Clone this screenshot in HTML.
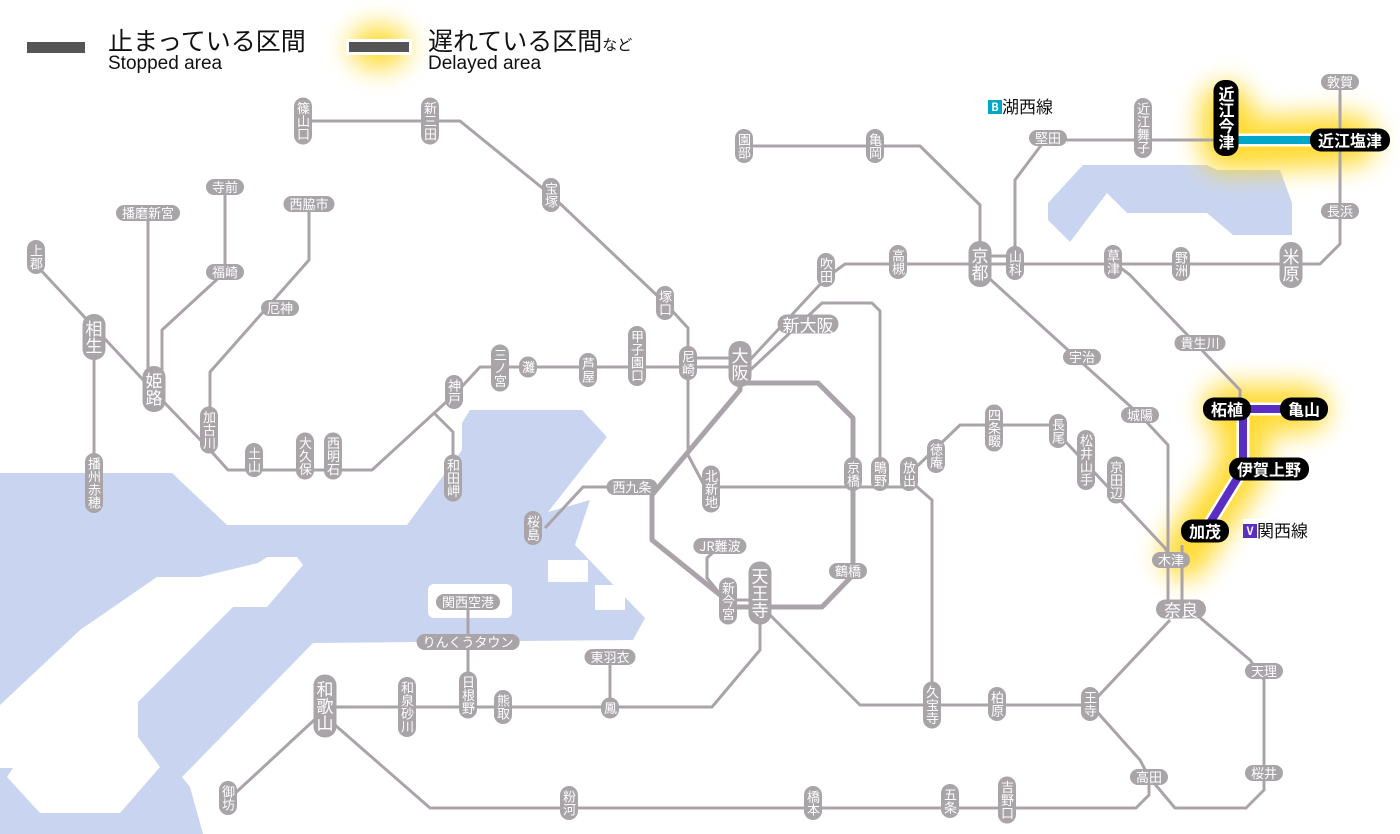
<!DOCTYPE html>
<html><head><meta charset="utf-8">
<style>
html,body{margin:0;padding:0;background:#fff;}
body{width:1400px;height:834px;position:relative;overflow:hidden;font-family:"Liberation Sans","Noto Sans CJK JP",sans-serif;}
svg{position:absolute;left:0;top:0;}
.s{position:absolute;transform:translate(-50%,-50%);background:#a8a4a8;color:#fff;border-radius:9px;font-size:13px;line-height:14px;white-space:nowrap;font-family:"Noto Sans CJK JP",sans-serif;}
.v{writing-mode:vertical-rl;padding:4px 2px;}
.h{padding:1px 6px;}
.b{font-size:17px;line-height:19px;border-radius:11px;}
.v.b{padding:6px 2px;}
.k{background:#000;font-size:16px;line-height:19px;border-radius:11px;font-weight:bold;}
.h.k{padding:2px 8px;}
.v.k{padding:6px 3px;}
.t{position:absolute;white-space:nowrap;color:#111;}
</style></head><body>
<svg width="1400" height="834" viewBox="0 0 1400 834">
<defs>
<filter id="bl" x="-50%" y="-50%" width="200%" height="200%"><feGaussianBlur stdDeviation="13"/></filter>
</defs>
<g fill="#c9d5f0">
<polygon points="0,473 172,473 227,525 407,525 462,450 462,423 470,410 582,410 607,437 548,512 590,500 575,545 645,618 633,640 313,643 182,777 190,787 203,834 0,834"/>
<polygon points="1083,165 1207,165 1217,170 1280,170 1292,203 1292,235 1233,235 1207,213 1127,213 1107,193 1070,242 1048,220 1048,203"/>
</g>
<g fill="#fff">
<polygon points="0,705 80,630 157,577 200,577 258,563 267,557 297,557 303,565 267,607 233,607 138,702 138,737 160,767 120,813 40,813 7,777 13,768 0,768"/>
<rect x="548" y="560" width="40" height="22"/>
<rect x="595" y="585" width="30" height="25"/>
<rect x="428" y="584" width="84" height="34" rx="6"/>
</g>
<g filter="url(#bl)" stroke="#ffd200" fill="none" stroke-linecap="round" stroke-linejoin="round" opacity="0.8">
<polyline points="1226,110 1226,145 1350,140" stroke-width="52"/>
<polyline points="1227,409 1304,409" stroke-width="48"/>
<polyline points="1243,409 1243,469 1200,531 1185,555" stroke-width="48"/>
<ellipse cx="379" cy="47" rx="30" ry="22" fill="#ffd200" stroke="none"/>
</g>
<g stroke="#aaa4aa" stroke-width="3" fill="none" stroke-linejoin="round">
<polyline points="303,121 460,121 551,195 665,303 688,328 688,455 705,487 915,487"/>
<polyline points="160,398 210,450 228,470 372,470 455,394 480,367 740,367"/>
<polyline points="688,358 740,358"/>
<polyline points="36,265 160,398"/>
<polyline points="94,337 94,483"/>
<polyline points="148,213 148,389"/>
<polyline points="225,187 225,272 162,330 162,389"/>
<polyline points="309,204 309,260 210,372 210,430"/>
<polyline points="433,412 453,432 453,478"/>
<polyline points="748,362 826,278 845,264 1320,264 1340,244 1340,82"/>
<polyline points="980,256 1015,256"/>
<polyline points="746,374 822,303 872,303 880,311 880,474"/>
<polyline points="632,487 583,487 545,528"/>
<polyline points="720,546 707,558 707,578 725,600"/>
<polyline points="728,600 760,600"/>
<polyline points="760,593 760,650 712,707 325,707"/>
<polyline points="770,615 860,705 1090,705 1170,620"/>
<polyline points="1185,605 1250,660 1264,680 1264,790 1246,808 1175,808 1149,777"/>
<polyline points="1090,704 1140,760 1149,777 1149,795 1136,808 430,808 335,725"/>
<polyline points="325,710 230,798"/>
<polyline points="468,602 468,707"/>
<polyline points="610,657 610,708"/>
<polyline points="909,480 932,500 932,700"/>
<polyline points="909,474 960,425 1050,425 1165,548 1171,560"/>
<polyline points="980,270 1090,370 1140,415 1168,445 1168,610"/>
<polyline points="1182,545 1182,609"/>
<polyline points="1113,262 1130,275 1240,390 1240,400"/>
<polyline points="1015,263 1015,180 1045,140 1215,140"/>
<polyline points="744,146 920,146 980,205 980,264"/>
<polygon points="740,383 818,383 853,418 853,575 822,607 735,607 652,540 652,495 740,390" stroke-width="5"/>
</g>
<g fill="none" stroke-linejoin="round">
<polyline points="1226,140 1350,140" stroke="#fff" stroke-width="13"/>
<polyline points="1226,140 1350,140" stroke="#00a7c9" stroke-width="8"/>
<polyline points="1227,409 1304,409" stroke="#fff" stroke-width="13"/>
<polyline points="1243,409 1243,469 1205,531" stroke="#fff" stroke-width="13"/>
<polyline points="1227,409 1304,409" stroke="#5a2ec2" stroke-width="8"/>
<polyline points="1243,409 1243,469 1205,531" stroke="#5a2ec2" stroke-width="8"/>
</g>
<rect x="27" y="42" width="58" height="11" fill="#555"/>
<rect x="346" y="39" width="66" height="16" fill="#fff"/>
<rect x="349" y="42" width="60" height="10" fill="#555"/>
</svg>

<div class="t" style="left:108px;top:24px;font-size:25px;font-family:'Noto Sans CJK JP',sans-serif;line-height:32px;">止まっている区間</div>
<div class="t" style="left:108px;top:53px;font-size:19px;line-height:22px;">Stopped area</div>
<div class="t" style="left:428px;top:24px;font-size:25px;font-family:'Noto Sans CJK JP',sans-serif;line-height:32px;">遅れている区間<span style="font-size:15px">など</span></div>
<div class="t" style="left:428px;top:53px;font-size:19px;line-height:22px;">Delayed area</div>

<div class="t" style="left:988px;top:95px;font-size:17px;line-height:22px;font-family:'Noto Sans CJK JP',sans-serif;background:#fff;"><span style="display:inline-block;background:#00a7c9;color:#fff;font-size:11px;line-height:14px;width:14px;text-align:center;vertical-align:2px;font-weight:bold">B</span>湖西線</div>
<div class="t" style="left:1243px;top:519px;font-size:17px;line-height:22px;font-family:'Noto Sans CJK JP',sans-serif;background:#fff;"><span style="display:inline-block;background:#5a2ec2;color:#fff;font-size:11px;line-height:14px;width:14px;text-align:center;vertical-align:2px;font-weight:bold">V</span>関西線</div>

<div class="s v" style="left:303px;top:121px">篠山口</div>
<div class="s v" style="left:430px;top:121px">新三田</div>
<div class="s v" style="left:551px;top:195px">宝塚</div>
<div class="s v" style="left:665px;top:303px">塚口</div>
<div class="s v" style="left:688px;top:363px">尼崎</div>
<div class="s v" style="left:637px;top:356px">甲子園口</div>
<div class="s v" style="left:588px;top:370px">芦屋</div>
<div class="s v" style="left:528px;top:367px">灘</div>
<div class="s v" style="left:500px;top:368px">三ノ宮</div>
<div class="s v" style="left:454px;top:392px">神戸</div>
<div class="s v" style="left:453px;top:478px">和田岬</div>
<div class="s v" style="left:333px;top:456px">西明石</div>
<div class="s v" style="left:305px;top:456px">大久保</div>
<div class="s v" style="left:254px;top:460px">土山</div>
<div class="s v" style="left:209px;top:430px">加古川</div>
<div class="s v b" style="left:154px;top:389px">姫路</div>
<div class="s v b" style="left:94px;top:337px">相生</div>
<div class="s v" style="left:36px;top:257px">上郡</div>
<div class="s v" style="left:94px;top:483px">播州赤穂</div>
<div class="s h" style="left:148px;top:213px">播磨新宮</div>
<div class="s h" style="left:225px;top:187px">寺前</div>
<div class="s h" style="left:225px;top:272px">福崎</div>
<div class="s h" style="left:309px;top:204px">西脇市</div>
<div class="s h" style="left:280px;top:308px">厄神</div>
<div class="s v" style="left:744px;top:146px">園部</div>
<div class="s v" style="left:875px;top:146px">亀岡</div>
<div class="s v" style="left:826px;top:270px">吹田</div>
<div class="s v" style="left:898px;top:262px">高槻</div>
<div class="s v b" style="left:980px;top:264px">京都</div>
<div class="s v" style="left:1015px;top:263px">山科</div>
<div class="s h" style="left:1048px;top:138px">堅田</div>
<div class="s v" style="left:1143px;top:128px">近江舞子</div>
<div class="s v k" style="left:1226px;top:118px">近江今津</div>
<div class="s h k" style="left:1350px;top:140px">近江塩津</div>
<div class="s h" style="left:1340px;top:82px">敦賀</div>
<div class="s h" style="left:1340px;top:211px">長浜</div>
<div class="s v b" style="left:1291px;top:265px">米原</div>
<div class="s v" style="left:1181px;top:264px">野洲</div>
<div class="s v" style="left:1113px;top:262px">草津</div>
<div class="s h" style="left:1200px;top:343px">貴生川</div>
<div class="s h" style="left:1082px;top:357px">宇治</div>
<div class="s h" style="left:1140px;top:415px">城陽</div>
<div class="s h k" style="left:1227px;top:409px">柘植</div>
<div class="s h k" style="left:1304px;top:409px">亀山</div>
<div class="s h k" style="left:1269px;top:469px">伊賀上野</div>
<div class="s h k" style="left:1205px;top:531px">加茂</div>
<div class="s h" style="left:1171px;top:560px">木津</div>
<div class="s h b" style="left:1181px;top:609px;padding:0 8px">奈良</div>
<div class="s h" style="left:1264px;top:671px">天理</div>
<div class="s h" style="left:1264px;top:773px">桜井</div>
<div class="s h" style="left:1149px;top:777px">高田</div>
<div class="s v" style="left:1090px;top:704px">王寺</div>
<div class="s v" style="left:997px;top:704px">柏原</div>
<div class="s v" style="left:932px;top:705px">久宝寺</div>
<div class="s v" style="left:994px;top:428px">四条畷</div>
<div class="s v" style="left:1058px;top:431px">長尾</div>
<div class="s v" style="left:1086px;top:460px">松井山手</div>
<div class="s v" style="left:1116px;top:480px">京田辺</div>
<div class="s v" style="left:936px;top:456px">徳庵</div>
<div class="s v" style="left:909px;top:474px">放出</div>
<div class="s v" style="left:880px;top:474px">鴫野</div>
<div class="s v" style="left:853px;top:474px">京橋</div>
<div class="s h" style="left:848px;top:571px">鶴橋</div>
<div class="s v" style="left:711px;top:489px">北新地</div>
<div class="s h" style="left:632px;top:487px">西九条</div>
<div class="s v" style="left:533px;top:528px">桜島</div>
<div class="s h" style="left:720px;top:546px">JR難波</div>
<div class="s v" style="left:728px;top:601px">新今宮</div>
<div class="s v b" style="left:760px;top:593px">天王寺</div>
<div class="s h b" style="left:808px;top:324px;padding:0 5px">新大阪</div>
<div class="s v b" style="left:740px;top:364px">大阪</div>
<div class="s h" style="left:468px;top:602px">関西空港</div>
<div class="s h" style="left:468px;top:642px">りんくうタウン</div>
<div class="s h" style="left:610px;top:657px">東羽衣</div>
<div class="s v" style="left:610px;top:708px">鳳</div>
<div class="s v" style="left:503px;top:707px">熊取</div>
<div class="s v" style="left:468px;top:695px">日根野</div>
<div class="s v" style="left:407px;top:707px">和泉砂川</div>
<div class="s v b" style="left:325px;top:706px">和歌山</div>
<div class="s v" style="left:228px;top:798px">御坊</div>
<div class="s v" style="left:569px;top:803px">粉河</div>
<div class="s v" style="left:813px;top:803px">橋本</div>
<div class="s v" style="left:950px;top:801px">五条</div>
<div class="s v" style="left:1007px;top:800px">吉野口</div>
</body></html>
